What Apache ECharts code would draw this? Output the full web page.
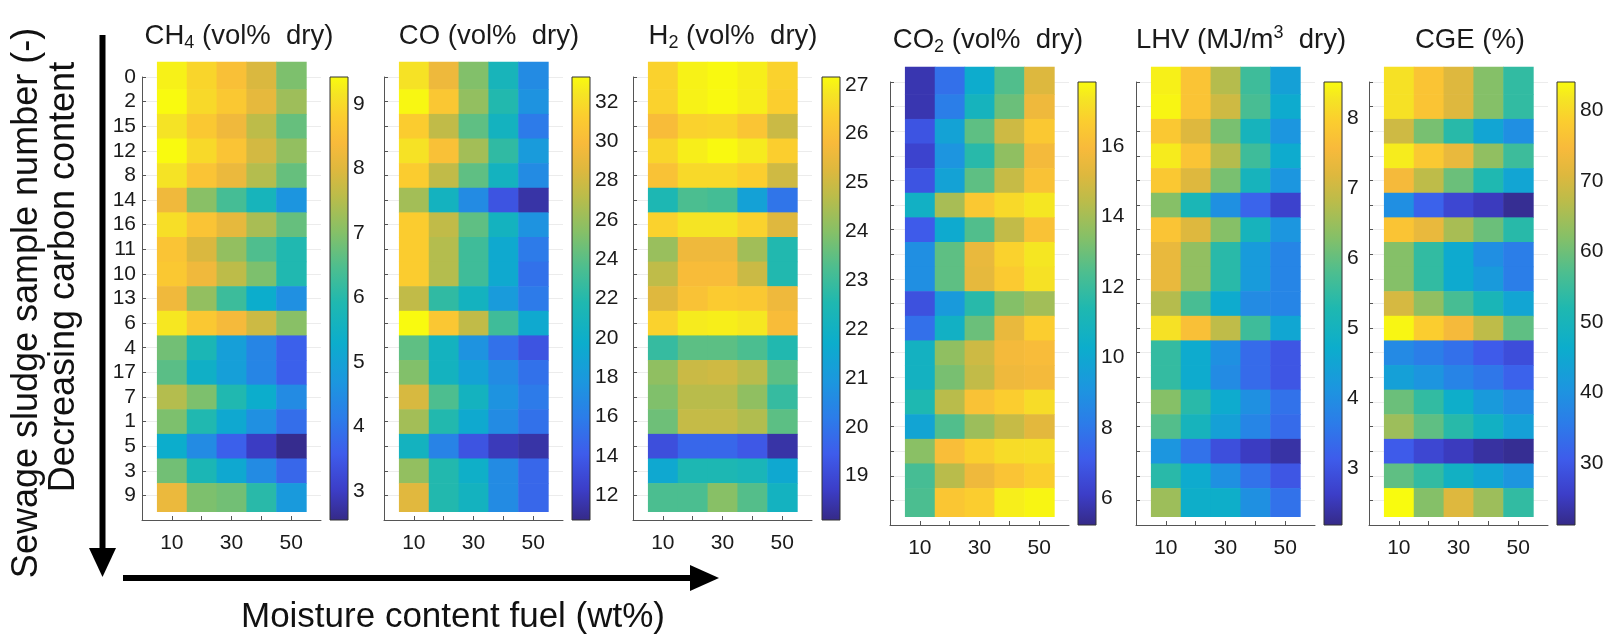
<!DOCTYPE html>
<html>
<head>
<meta charset="utf-8">
<title>Sewage sludge heatmaps</title>
<script src="https://cdn.jsdelivr.net/npm/echarts@6/dist/echarts.min.js"></script>
<style>
  html, body { margin:0; padding:0; background:#fff; }
  #chart { width:1610px; height:634px; }
</style>
</head>
<body>
<div id="chart"></div>
<script>
// x: moisture content of the fuel (wt%), y: sludge samples sorted by decreasing carbon
var moisture = [10, 20, 30, 40, 50];
var samples = ['0', '2', '15', '12', '8', '14', '16', '11', '10', '13', '6', '4', '17', '7', '1', '5', '3', '9'];

var ch4 = [
  [9.2, 8.6, 8.1, 7.4, 6.4], [9.4, 8.7, 8.3, 7.6, 6.7], [8.9, 8.3, 7.8, 7.0, 6.2],
  [9.4, 8.7, 8.2, 7.3, 6.6], [8.9, 8.2, 7.7, 6.9, 6.2], [7.8, 6.5, 5.9, 5.3, 4.5],
  [8.8, 8.2, 7.6, 6.8, 6.2], [8.2, 7.4, 6.6, 6.0, 5.5], [8.3, 7.8, 7.0, 6.4, 5.5],
  [7.8, 6.6, 5.8, 5.0, 4.4], [9.0, 8.3, 7.9, 7.2, 6.5], [6.3, 5.4, 4.7, 4.2, 3.6],
  [6.1, 5.1, 4.7, 4.2, 3.6], [6.9, 6.4, 5.5, 5.0, 4.3], [6.4, 5.5, 4.9, 4.4, 3.8],
  [5.0, 4.3, 3.6, 3.0, 2.6], [6.3, 5.4, 4.9, 4.3, 3.7], [7.7, 6.4, 6.3, 5.6, 4.6]
];
var co = [
  [31.5, 27.8, 23.5, 19.8, 16.5], [33.0, 29.5, 24.0, 20.5, 17.0], [30.0, 25.5, 22.5, 19.5, 15.5],
  [31.5, 29.0, 24.5, 21.0, 17.5], [30.0, 25.5, 22.5, 19.5, 16.5], [24.5, 19.5, 16.5, 13.5, 11.5],
  [30.0, 25.5, 22.5, 19.5, 17.0], [30.0, 25.0, 21.5, 18.5, 15.5], [30.0, 25.0, 21.5, 18.5, 15.0],
  [25.5, 21.0, 19.5, 17.5, 15.5], [33.2, 29.5, 25.5, 21.5, 18.5], [22.5, 19.5, 17.0, 15.0, 13.5],
  [23.5, 19.5, 18.0, 16.5, 15.0], [26.5, 22.0, 19.5, 17.0, 15.5], [24.5, 20.5, 18.5, 16.5, 15.0],
  [19.5, 16.0, 13.5, 12.0, 11.5], [24.0, 20.5, 19.0, 16.5, 14.5], [27.0, 20.5, 19.5, 16.5, 14.5]
];
var h2 = [
  [26.0, 26.9, 27.1, 26.8, 26.0], [26.0, 26.9, 27.1, 26.8, 25.9], [25.3, 26.0, 26.1, 25.6, 24.2],
  [26.1, 26.8, 27.1, 26.7, 25.9], [25.5, 26.2, 26.2, 25.9, 24.3], [21.9, 22.6, 22.5, 21.0, 19.9],
  [26.0, 26.5, 26.5, 26.0, 24.6], [23.5, 25.0, 25.0, 23.6, 22.0], [24.0, 25.3, 25.3, 24.2, 22.0],
  [24.6, 25.5, 25.8, 25.7, 25.0], [26.0, 26.7, 26.8, 26.6, 25.3], [22.3, 22.8, 22.8, 22.6, 22.0],
  [23.4, 24.2, 24.3, 23.9, 22.8], [23.2, 23.9, 23.9, 23.4, 22.3], [23.0, 24.1, 24.1, 23.8, 22.8],
  [19.1, 19.6, 19.6, 19.3, 18.4], [21.2, 21.9, 21.9, 21.8, 21.2], [22.6, 22.6, 23.3, 22.7, 21.6]
];
var co2 = [
  [5.8, 7.6, 9.7, 11.6, 14.2], [5.8, 8.0, 10.2, 12.0, 14.8], [6.8, 9.3, 11.8, 13.8, 15.8],
  [6.3, 8.8, 10.8, 12.6, 15.0], [6.8, 9.3, 11.8, 13.6, 15.5], [10.0, 13.0, 15.8, 16.5, 17.0],
  [7.0, 9.6, 11.6, 13.5, 15.5], [8.6, 11.8, 14.6, 16.2, 17.0], [8.6, 11.8, 14.5, 15.9, 16.8],
  [6.7, 9.0, 10.8, 12.4, 12.9], [7.6, 10.0, 12.0, 14.6, 16.0], [10.1, 12.6, 13.8, 15.0, 15.2],
  [10.1, 12.2, 13.5, 14.8, 15.0], [10.6, 13.3, 15.5, 16.0, 16.6], [9.4, 11.6, 12.8, 13.6, 14.4],
  [12.5, 15.3, 16.1, 16.6, 16.7], [11.4, 13.3, 14.8, 15.6, 16.1], [11.5, 15.7, 16.0, 17.3, 17.6]
];
var lhv = [
  [8.3, 7.4, 6.2, 5.2, 4.2], [8.4, 7.4, 6.5, 5.3, 4.4], [7.5, 6.7, 5.7, 4.7, 4.0],
  [8.2, 7.4, 6.2, 5.2, 4.4], [7.5, 6.7, 5.7, 4.7, 4.0], [5.8, 4.8, 3.9, 3.2, 2.7],
  [7.4, 6.7, 5.8, 4.7, 4.0], [6.9, 5.9, 5.0, 4.1, 3.7], [6.9, 5.9, 5.0, 4.1, 3.7],
  [6.2, 5.3, 4.4, 3.8, 3.7], [8.0, 7.3, 6.3, 5.2, 4.3], [5.1, 4.4, 3.9, 3.3, 3.0],
  [5.1, 4.4, 3.8, 3.3, 3.0], [5.8, 5.0, 4.4, 3.9, 3.4], [5.4, 4.7, 4.2, 3.7, 3.3],
  [4.0, 3.4, 2.9, 2.6, 2.4], [5.0, 4.4, 3.9, 3.4, 3.0], [6.0, 4.5, 4.5, 3.9, 3.4]
];
var cge = [
  [79, 73, 66, 57, 50], [79, 73, 66, 57, 50], [64, 56, 49, 42, 38],
  [81, 74, 68, 58, 51], [70, 62, 55, 48, 42], [38, 31, 27, 25, 22],
  [73, 68, 60, 55, 49], [57, 50, 43, 38, 35], [57, 50, 43, 40, 35],
  [65, 58, 52, 47, 42], [83, 75, 70, 62, 54], [37, 35, 33, 30, 28],
  [41, 39, 36, 34, 31], [55, 50, 44, 40, 37], [59, 54, 49, 45, 41],
  [30, 27, 25, 23, 22], [54, 50, 45, 42, 39], [84, 57, 66, 59, 50]
];

// colour bar limits and tick labels
var ch4Range = [2.55, 9.42], ch4Ticks = [3, 4, 5, 6, 7, 8, 9];
var coRange = [10.73, 33.27], coTicks = [12, 14, 16, 18, 20, 22, 24, 26, 28, 30, 32];
var h2Range = [18.09, 27.16], h2Ticks = [19, 20, 21, 22, 23, 24, 25, 26, 27];
var co2Range = [5.24, 17.82], co2Ticks = [6, 8, 10, 12, 14, 16];
var lhvRange = [2.19, 8.51], lhvTicks = [3, 4, 5, 6, 7, 8];
var cgeRange = [21.2, 84.0], cgeTicks = [30, 40, 50, 60, 70, 80];

var xLabels = [10, 30, 50];

// parula-like colour map
var parula = ['#352a87', '#3c3ec8', '#3e5ceb', '#2c7ce9', '#1c96df', '#0cadcc', '#1fb8b0',
  '#4dbe8f', '#86c067', '#bbbc4a', '#deb83e', '#f8ba3b', '#fbcd2f', '#f5e424', '#f9fb0e'];
var parulaPos = [0, 0.07, 0.15, 0.23, 0.31, 0.40, 0.49, 0.57, 0.65, 0.73, 0.79, 0.85, 0.91, 0.96, 1];

var FONT = 'Liberation Sans, Arial, Helvetica, sans-serif';
var INK = '#1a1a1a';

var panels = [
  { title: '{a|CH}{s|4}{a| (vol%  dry)}', data: ch4, range: ch4Range, ticks: ch4Ticks },
  { title: '{a|CO (vol%  dry)}', data: co, range: coRange, ticks: coTicks },
  { title: '{a|H}{s|2}{a| (vol%  dry)}', data: h2, range: h2Range, ticks: h2Ticks },
  { title: '{a|CO}{s|2}{a| (vol%  dry)}', data: co2, range: co2Range, ticks: co2Ticks },
  { title: '{a|LHV (MJ/m}{p|3}{a|  dry)}', data: lhv, range: lhvRange, ticks: lhvTicks },
  { title: '{a|CGE (%)}', data: cge, range: cgeRange, ticks: cgeTicks }
];
// where each panel sits on the page
var layout = [
  { left: 142, top: 77, tx: 239, ty: 36, cb: 330 },
  { left: 384, top: 77, tx: 489, ty: 36, cb: 572 },
  { left: 633, top: 77, tx: 733, ty: 36, cb: 822 },
  { left: 890, top: 82, tx: 988, ty: 40, cb: 1078 },
  { left: 1136, top: 82, tx: 1241, ty: 40, cb: 1324 },
  { left: 1369, top: 82, tx: 1470, ty: 40, cb: 1557 }
];
var AX_W = 179, AX_H = 443, CB_W = 18;

var gradStops = parula.map(function (c, i) { return { offset: parulaPos[i], color: c }; });

function renderCell(params, api) {
  var x = api.value(0), r = api.value(1);
  var y0 = r === 0 ? -0.62 : r - 0.5;
  var y1 = r === samples.length - 1 ? r + 0.65 : r + 0.5;
  var p0 = api.coord([x - 5, y0]);
  var p1 = api.coord([x + 5, y1]);
  return {
    type: 'rect',
    shape: { x: p0[0], y: p0[1], width: p1[0] - p0[0] + 0.6, height: p1[1] - p0[1] + 0.6 },
    style: { fill: api.visual('color') }
  };
}

function renderBar(params, api) {
  var p0 = api.coord([0, api.value(0)]);
  var p1 = api.coord([1, api.value(1)]);
  return {
    type: 'rect',
    shape: { x: p0[0], y: p1[1], width: p1[0] - p0[0], height: p0[1] - p1[1] },
    style: {
      fill: new echarts.graphic.LinearGradient(0, 1, 0, 0, gradStops),
      stroke: '#333', lineWidth: 1
    }
  };
}

var grid = [], xAxis = [], yAxis = [], series = [], visualMap = [], graphic = [];
var richTitle = {
  a: { fontSize: 27.5, fontFamily: FONT, fill: INK, lineHeight: 32 },
  s: { fontSize: 18, fontFamily: FONT, fill: INK, lineHeight: 15, verticalAlign: 'bottom' },
  p: { fontSize: 18, fontFamily: FONT, fill: INK, lineHeight: 15, verticalAlign: 'top' }
};

panels.forEach(function (pn, i) {
  var L = layout[i];
  var g = i * 2;
  // heat map axes
  grid.push({ left: L.left, top: L.top, width: AX_W, height: AX_H });
  xAxis.push({
    type: 'value', gridIndex: g, min: 0, max: 60, interval: 10,
    axisLine: { show: true, onZero: false, lineStyle: { color: '#555', width: 1 } },
    axisTick: { show: true, inside: true, length: 4, customValues: moisture, lineStyle: { color: '#555' } },
    axisLabel: { customValues: xLabels, fontSize: 21, fontFamily: FONT, color: INK, margin: 13 },
    splitLine: { show: false }
  });
  yAxis.push({
    type: 'value', gridIndex: g, min: 0, max: 18, interval: 1, inverse: true,
    axisLine: { show: true, onZero: false, lineStyle: { color: '#555', width: 1 } },
    axisTick: { show: true, inside: true, length: 4, lineStyle: { color: '#555' } },
    axisLabel: {
      show: i === 0, fontSize: 21, fontFamily: FONT, color: INK, margin: 6,
      formatter: function (v) { return samples[v] !== undefined ? samples[v] : ''; }
    },
    splitLine: { show: true, lineStyle: { color: '#ececec', width: 1 } }
  });
  var cells = [];
  pn.data.forEach(function (row, r) {
    row.forEach(function (v, c) { cells.push([moisture[c], r, v]); });
  });
  series.push({
    type: 'custom', xAxisIndex: g, yAxisIndex: g, renderItem: renderCell,
    data: cells, clip: false, silent: true
  });
  visualMap.push({
    type: 'continuous', show: false, seriesIndex: g, dimension: 2,
    min: pn.range[0], max: pn.range[1],
    inRange: { color: parula }
  });
  // colour bar
  grid.push({ left: L.cb, top: L.top, width: CB_W, height: AX_H });
  xAxis.push({ type: 'value', gridIndex: g + 1, min: 0, max: 1, show: false });
  yAxis.push({
    type: 'value', gridIndex: g + 1, position: 'right', min: pn.range[0], max: pn.range[1],
    axisLine: { show: false },
    axisTick: { show: true, inside: false, length: 3, customValues: pn.ticks, lineStyle: { color: '#444' } },
    axisLabel: { customValues: pn.ticks, fontSize: 21, fontFamily: FONT, color: INK, margin: 5 },
    splitLine: { show: false }
  });
  series.push({
    type: 'custom', xAxisIndex: g + 1, yAxisIndex: g + 1, renderItem: renderBar,
    data: [[pn.range[0], pn.range[1]]], silent: true
  });
  graphic.push({
    type: 'text', x: L.tx, y: L.ty,
    style: { text: pn.title, rich: richTitle, align: 'center', verticalAlign: 'middle', fill: INK }
  });
});

// axis annotations and arrows
graphic.push(
  { type: 'text', x: 27, y: 303, rotation: Math.PI / 2,
    style: { text: 'Sewage sludge sample number (-)', fontSize: 36, fontFamily: FONT, fill: '#111', align: 'center', verticalAlign: 'middle' } },
  { type: 'text', x: 64, y: 277, rotation: Math.PI / 2,
    style: { text: 'Decreasing carbon content', fontSize: 36, fontFamily: FONT, fill: '#111', align: 'center', verticalAlign: 'middle' } },
  { type: 'text', x: 453, y: 617,
    style: { text: 'Moisture content fuel (wt%)', fontSize: 35, fontFamily: FONT, fill: '#111', align: 'center', verticalAlign: 'middle' } },
  { type: 'rect', shape: { x: 99.5, y: 35, width: 6, height: 516 }, style: { fill: '#000' } },
  { type: 'polygon', shape: { points: [[89, 548], [116, 548], [102.5, 577]] }, style: { fill: '#000' } },
  { type: 'rect', shape: { x: 123, y: 575, width: 570, height: 6 }, style: { fill: '#000' } },
  { type: 'polygon', shape: { points: [[690, 565], [690, 591], [719, 578]] }, style: { fill: '#000' } }
);

var chart = echarts.init(document.getElementById('chart'));
chart.setOption({
  backgroundColor: '#fff',
  animation: false,
  grid: grid, xAxis: xAxis, yAxis: yAxis,
  visualMap: visualMap, series: series, graphic: graphic
});
</script>
</body>
</html>
